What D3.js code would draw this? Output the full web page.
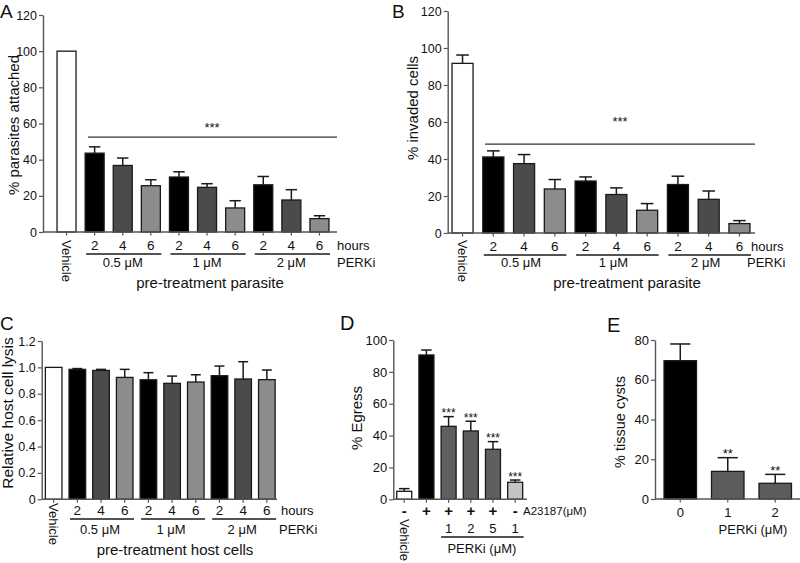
<!DOCTYPE html>
<html><head><meta charset="utf-8">
<script src="https://cdn.jsdelivr.net/npm/d3@7"></script>
<style>
body{margin:0;background:#fff}
svg{display:block}
text{font-family:"Liberation Sans",Arial,Helvetica,sans-serif;fill:#111}
</style>
</head><body>
<svg id="fig" width="800" height="563"></svg>
<script>
// ---------------- DATA ----------------
// Panels A, B, C share the same categories
const pretreatHours = ["Vehicle","2","4","6","2","4","6","2","4","6"];
const pretreatConc  = ["", "0.5 μM","0.5 μM","0.5 μM","1 μM","1 μM","1 μM","2 μM","2 μM","2 μM"];
const concGroups = ["0.5 μM","1 μM","2 μM"];
const yTicksAB = [0,20,40,60,80,100,120];
const yTicksC  = [0,0.2,0.4,0.6,0.8,1.0,1.2];

// A: % parasites attached
const attachedValues = [100, 43.6, 36.8, 25.6, 30.4, 24.7, 13.3, 26.1, 17.7, 7.4];
const attachedErrors = [0, 3.5, 4.1, 3.3, 2.9, 2.0, 4.0, 4.6, 5.7, 1.6];
const attachedSigLevel = 52.5;

// B: % invaded cells
const invadedValues = [91.7, 41.1, 37.5, 23.8, 28.1, 20.8, 12.3, 26.2, 18.2, 5.1];
const invadedErrors = [4.5, 3.3, 4.9, 5.1, 2.2, 3.6, 3.6, 4.5, 4.5, 1.6];
const invadedSigLevel = 48;

// C: relative host cell lysis
const lysisValues = [1.0, 0.985, 0.977, 0.924, 0.906, 0.879, 0.889, 0.937, 0.912, 0.907];
const lysisErrors = [0, 0.006, 0.008, 0.061, 0.054, 0.055, 0.055, 0.073, 0.131, 0.073];

// D: % Egress
const egressGroups   = ["vehicle","ionophore","combo","combo","combo","perki"];
const egressA23187   = ["-","+","+","+","+","-"];
const egressPerki    = ["","","1","2","5","1"];
const egressValues   = [5.0, 90.6, 45.8, 42.9, 31.4, 10.7];
const egressErrors   = [1.7, 3.1, 6.1, 6.1, 4.8, 1.4];
const egressSig      = ["","","***","***","***","***"];
const yTicksD = [0,20,40,60,80,100];

// E: % tissue cysts
const cystCategories = ["0","1","2"];
const cystValues = [69.6, 13.9, 7.9];
const cystErrors = [8.4, 6.9, 4.5];
const cystSig    = ["","**","**"];
const yTicksE = [0,20,40,60,80];

// ---------------- DRAW ----------------
const svg = d3.select("#fig");
const FONT = '"Liberation Sans",Arial,Helvetica,sans-serif';
const AXIS = "#555";
const INK = "#1a1a1a";

function drawPanel(p) {
  const g = svg.append("g");
  const n = p.values.length;
  const x = d3.scaleBand().domain(d3.range(n)).range(p.bandRange)
    .paddingInner(p.pi).paddingOuter(p.po);
  const y = d3.scaleLinear().domain(p.yDomain).range(p.yRange);
  const bw = x.bandwidth();
  const cx = i => x(i) + bw / 2;

  // bars
  g.selectAll("rect.bar").data(p.values).join("rect").attr("class","bar")
    .attr("x",(d,i)=>x(i)).attr("y",d=>y(d))
    .attr("width",bw).attr("height",d=>y(0)-y(d))
    .attr("fill",(d,i)=>p.fill(i)).attr("stroke",INK).attr("stroke-width",1.3);

  // error bars (upper only)
  const errs = p.values.map((v,i)=>({v, e:p.errors[i], i})).filter(d=>d.e>0);
  const capW = bw * p.capFrac;
  g.selectAll("line.ev").data(errs).join("line").attr("class","ev")
    .attr("x1",d=>cx(d.i)).attr("x2",d=>cx(d.i))
    .attr("y1",d=>y(d.v)).attr("y2",d=>y(d.v+d.e))
    .attr("stroke",INK).attr("stroke-width",1.5);
  g.selectAll("line.ec").data(errs).join("line").attr("class","ec")
    .attr("x1",d=>cx(d.i)-capW/2).attr("x2",d=>cx(d.i)+capW/2)
    .attr("y1",d=>y(d.v+d.e)).attr("y2",d=>y(d.v+d.e))
    .attr("stroke",INK).attr("stroke-width",1.5);

  // y axis
  const ax = g.append("g").attr("transform",`translate(${p.axisX[0]},0)`)
    .call(d3.axisLeft(y).tickValues(p.ticks).tickFormat(p.fmt)
      .tickSize(4).tickSizeOuter(0).tickPadding(2));
  ax.attr("font-family",FONT).attr("font-size",p.tickFont);
  ax.select(".domain").attr("stroke",AXIS).attr("stroke-width",1.4);
  ax.selectAll(".tick line").attr("stroke",AXIS).attr("stroke-width",1.2);
  ax.selectAll(".tick text").attr("fill","#111");

  // x baseline + small ticks at bar centres
  g.append("line").attr("x1",p.axisX[0]).attr("x2",p.axisX[1])
    .attr("y1",y(0)).attr("y2",y(0)).attr("stroke",AXIS).attr("stroke-width",1.4);
  g.selectAll("line.xt").data(d3.range(n)).join("line").attr("class","xt")
    .attr("x1",cx).attr("x2",cx).attr("y1",y(0)).attr("y2",y(0)+3.5)
    .attr("stroke",AXIS).attr("stroke-width",1.2);

  // y title
  g.append("text")
    .attr("transform",`translate(${p.titleX},${p.titleY}) rotate(-90)`)
    .attr("text-anchor","middle").style("font-size",p.titleFont+"px").text(p.title);

  // panel letter
  g.append("text").attr("x",p.letterX).attr("y",p.letterY)
    .style("font-size",p.letterFont+"px").text(p.letter);

  return {g, x, y, cx, bw};
}

function vehicleLabel(P, top, size) {
  P.g.append("text")
    .attr("transform",`translate(${P.cx(0)},${top}) rotate(90)`)
    .attr("dominant-baseline","central")
    .style("font-size",size+"px").text("Vehicle");
}

function pretreatLabels(P, o) {
  const g = P.g;
  // hours digits
  g.selectAll("text.hr").data(pretreatHours.slice(1)).join("text").attr("class","hr")
    .attr("x",(d,i)=>P.cx(i+1)).attr("y",o.hourY).attr("text-anchor","middle")
    .style("font-size","13.5px").text(d=>d);
  g.append("text").attr("x",o.hoursX).attr("y",o.hourY).style("font-size","13px").text("hours");
  // concentration groups
  concGroups.forEach(c => {
    const idx = d3.range(pretreatConc.length).filter(i => pretreatConc[i] === c);
    const x0 = P.x(idx[0]), x1 = P.x(idx[idx.length-1]) + P.bw;
    g.append("line").attr("x1",x0+1).attr("x2",x1+1).attr("y1",o.lineY).attr("y2",o.lineY)
      .attr("stroke",INK).attr("stroke-width",1.3);
    g.append("text").attr("x",(x0+x1)/2 + o.concShift).attr("y",o.concY).attr("text-anchor","middle")
      .style("font-size","13px").text(c);
  });
  g.append("text").attr("x",o.perkiX).attr("y",o.concY).style("font-size","13px").text("PERKi");
  g.append("text").attr("x",o.titleX).attr("y",o.titleY).attr("text-anchor","middle")
    .style("font-size","15px").text(o.title);
  vehicleLabel(P, o.vehicleTop, 13);
}

function sigLine(P, level, x0, x1, starX, starY) {
  P.g.append("line").attr("x1",x0).attr("x2",x1).attr("y1",P.y(level)).attr("y2",P.y(level))
    .attr("stroke","#333").attr("stroke-width",1.3);
  P.g.append("text").attr("x",starX).attr("y",starY).attr("text-anchor","middle")
    .style("font-size","13px").text("***");
}

const hourShade = d3.scaleOrdinal().domain(["Vehicle","2","4","6"])
  .range(["#ffffff","#000000","#4b4b4b","#8c8c8c"]);

// ---- Panel A ----
const A = drawPanel({
  values: attachedValues, errors: attachedErrors,
  bandRange:[48.6,337.4], pi:0.324, po:0.3, axisX:[43,337],
  yDomain:[0,120], yRange:[232,15], ticks:yTicksAB, fmt:d3.format("d"), tickFont:12.5,
  fill: i => hourShade(pretreatHours[i]), capFrac:0.6,
  title:"% parasites attached", titleX:19, titleY:125, titleFont:15,
  letter:"A", letterX:0, letterY:18, letterFont:19
});
pretreatLabels(A, {hourY:250, hoursX:337, lineY:254, concY:267, perkiX:337, concShift:0,
  titleX:210, titleY:288, title:"pre-treatment parasite", vehicleTop:240});
sigLine(A, attachedSigLevel, 88, 337, 212, A.y(attachedSigLevel)-5);

// ---- Panel B ----
const B = drawPanel({
  values: invadedValues, errors: invadedErrors,
  bandRange:[447.4,754.6], pi:0.316, po:0.15, axisX:[447.7,755],
  yDomain:[0,120], yRange:[233,11], ticks:yTicksAB, fmt:d3.format("d"), tickFont:12.5,
  fill: i => hourShade(pretreatHours[i]), capFrac:0.6,
  title:"% invaded cells", titleX:418, titleY:108, titleFont:15,
  letter:"B", letterX:392, letterY:18, letterFont:19
});
pretreatLabels(B, {hourY:250.5, hoursX:751, lineY:255, concY:267, perkiX:747, concShift:-3,
  titleX:627, titleY:288, title:"pre-treatment parasite", vehicleTop:240});
sigLine(B, invadedSigLevel, 485, 755, 620, 126);

// ---- Panel C ----
const C = drawPanel({
  values: lysisValues, errors: lysisErrors,
  bandRange:[43,277.5], pi:0.30, po:0.10, axisX:[41.7,277],
  yDomain:[0,1.2], yRange:[499.3,341], ticks:yTicksC,
  fmt: d => d === 0 ? "0" : d.toFixed(1), tickFont:12.5,
  fill: i => hourShade(pretreatHours[i]), capFrac:0.6,
  title:"Relative host cell lysis", titleX:13, titleY:413, titleFont:15.5,
  letter:"C", letterX:0, letterY:330, letterFont:19
});
pretreatLabels(C, {hourY:515, hoursX:281, lineY:519, concY:534, perkiX:279, concShift:-1,
  titleX:175, titleY:555, title:"pre-treatment host cells", vehicleTop:503});

// ---- Panel D ----
const egressShade = d3.scaleOrdinal().domain(["vehicle","ionophore","combo","perki"])
  .range(["#ffffff","#000000","#5f5f5f","#c4c4c4"]);
const D = drawPanel({
  values: egressValues, errors: egressErrors,
  bandRange:[392.3,527.1], pi:0.324, po:0.2, axisX:[393.3,527],
  yDomain:[0,100], yRange:[499.3,340], ticks:yTicksD, fmt:d3.format("d"), tickFont:13,
  fill: i => egressShade(egressGroups[i]), capFrac:0.7,
  title:"% Egress", titleX:362, titleY:418, titleFont:15,
  letter:"D", letterX:340, letterY:330, letterFont:20
});
D.g.selectAll("text.sig").data(egressSig).join("text").attr("class","sig")
  .attr("x",(d,i)=>D.cx(i)).attr("y",(d,i)=>D.y(egressValues[i]+egressErrors[i])+0.5)
  .attr("text-anchor","middle").style("font-size","12px").text(d=>d);
D.g.selectAll("text.ion").data(egressA23187).join("text").attr("class","ion")
  .attr("x",(d,i)=>D.cx(i)).attr("y",516).attr("text-anchor","middle")
  .style("font-size","15px").style("font-weight","bold").text(d=>d);
D.g.append("text").attr("x",523).attr("y",515).style("font-size","11.5px").text("A23187(μM)");
D.g.selectAll("text.pk").data(egressPerki).join("text").attr("class","pk")
  .attr("x",(d,i)=>D.cx(i)).attr("y",533).attr("text-anchor","middle")
  .style("font-size","13px").text(d=>d);
{
  const idx = d3.range(egressPerki.length).filter(i => egressPerki[i] !== "");
  const x0 = D.x(idx[0]), x1 = D.x(idx[idx.length-1]) + D.bw;
  D.g.append("line").attr("x1",x0).attr("x2",x1+1).attr("y1",537).attr("y2",537)
    .attr("stroke",INK).attr("stroke-width",1.3);
  D.g.append("text").attr("x",(x0+x1)/2).attr("y",553).attr("text-anchor","middle")
    .style("font-size","13px").text("PERKi (μM)");
}
vehicleLabel(D, 519, 13);

// ---- Panel E ----
const cystShade = d3.scaleOrdinal().domain(cystCategories).range(["#000000","#5c5c5c","#5c5c5c"]);
const E = drawPanel({
  values: cystValues, errors: cystErrors,
  bandRange:[655,800.5], pi:0.316, po:0.19, axisX:[655,800],
  yDomain:[0,80], yRange:[499,340], ticks:yTicksE, fmt:d3.format("d"), tickFont:13,
  fill: i => cystShade(cystCategories[i]), capFrac:0.62,
  title:"% tissue cysts", titleX:625, titleY:422, titleFont:14.5,
  letter:"E", letterX:607, letterY:332, letterFont:20
});
E.g.selectAll("text.sig").data(cystSig).join("text").attr("class","sig")
  .attr("x",(d,i)=>E.cx(i)).attr("y",(d,i)=>E.y(cystValues[i]+cystErrors[i])+0.5)
  .attr("text-anchor","middle").style("font-size","13px").text(d=>d);
E.g.selectAll("text.cat").data(cystCategories).join("text").attr("class","cat")
  .attr("x",(d,i)=>E.cx(i)).attr("y",517).attr("text-anchor","middle")
  .style("font-size","13px").text(d=>d);
E.g.append("text").attr("x",753).attr("y",534).attr("text-anchor","middle")
  .style("font-size","13px").text("PERKi (μM)");
</script>
</body></html>
